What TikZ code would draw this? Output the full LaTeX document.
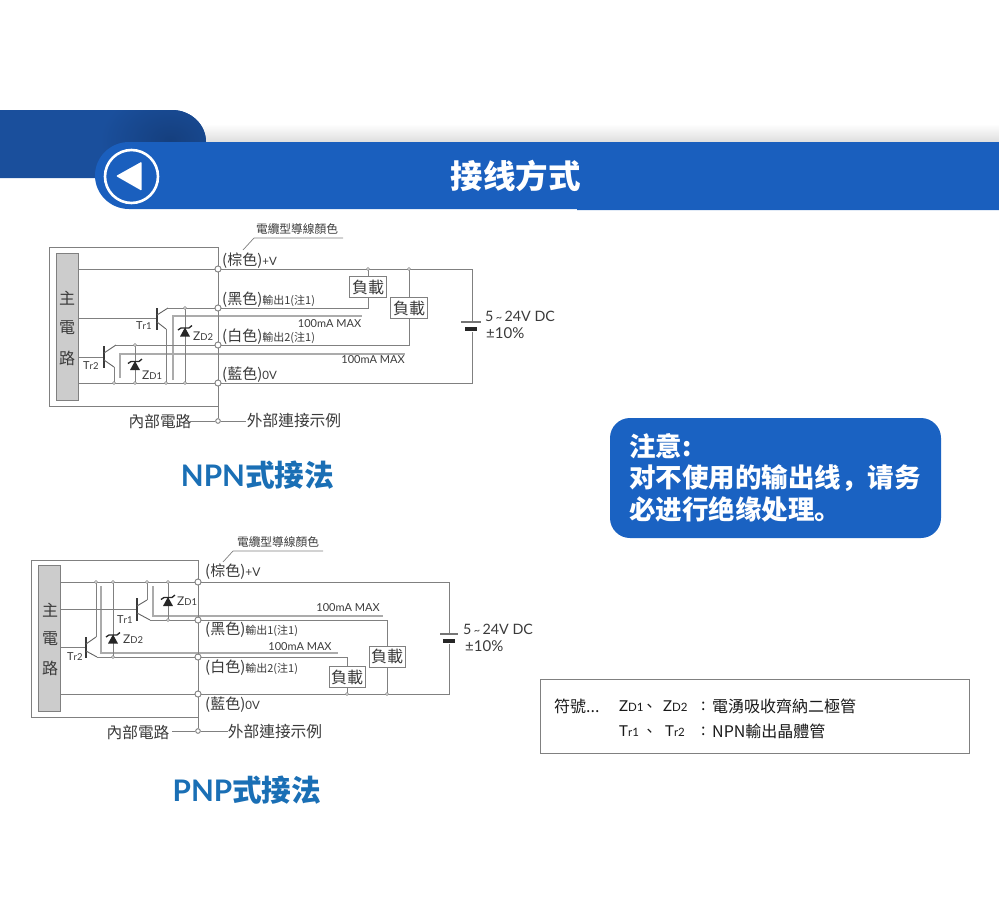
\documentclass[tikz,border=0pt]{standalone}
\usepackage{fontspec}
\setmainfont{Noto Sans CJK TC}
\newfontfamily\lat{Lato}
\newfontfamily\sccjk{Noto Sans CJK SC}
\usetikzlibrary{calc}
\definecolor{barblue}{HTML}{1A5FBE}
\definecolor{tabblue}{HTML}{1A4F9C}
\definecolor{tabdark}{HTML}{153F7E}
\definecolor{calloutblue}{HTML}{1A62C2}
\definecolor{titleblue}{HTML}{1A6FB5}
\definecolor{wire}{HTML}{808080}
\definecolor{greywire}{HTML}{ABABAB}
\definecolor{ink}{HTML}{3A3A3A}
\newcommand{\fs}[1]{\fontsize{#1}{#1}\selectfont}
\newcommand{\zd}[2][9.5]{{\lat Z{\fs{#1}D#2}}}
\newcommand{\trr}[2][9.5]{{\lat T{\fs{#1}r#2}}}
\tikzset{
  wireline/.style={draw=wire,line width=0.9pt},
  softline/.style={draw=greywire,line width=1.2pt},
  bjtbar/.style={draw=ink,line width=1.8pt},
  bjtleg/.style={draw=ink!80,line width=0.9pt},
  lbl/.style={inner sep=0pt,text=ink,anchor=west},
  ctr/.style={inner sep=0pt,text=ink,anchor=center},
  term/.style={circle,draw=wire,fill=white,line width=0.8pt,minimum size=6pt,inner sep=0pt},
  termsmall/.style={term,minimum size=4.5pt},
  jdot/.style={circle,draw=wire,fill=white,line width=0.6pt,minimum size=3pt,inner sep=0pt},
  loadbox/.style={draw=wire,fill=white,line width=0.9pt,inner sep=0pt,text=ink,font=\fs{16},anchor=center},
  mainbox/.style={draw=wire,fill=black!20,line width=0.8pt},
  calloutline/.style={inner sep=0pt,anchor=west,text=white,font=\sccjk\fs{26.5}\bfseries},
  legendtext/.style={lbl,text=black!90,font=\fs{16}},
  legendsym/.style={lbl,text=black!90,font=\fs{15}},
  zener/.pic={
    \fill[black!85] (0,-1) -- (-5,8) -- (5,8) -- cycle;
    \draw[black!85,line width=1.3pt] (-7,1.5) -- (-4,-0.5) -- (4,-0.5) -- (7,-3);
  }
}
\begin{document}
\begin{tikzpicture}[x=1pt,y=-1pt]
\useasboundingbox (0,0) rectangle (999,900);
% ---------- header ----------
\fill[top color=white,bottom color=black!13] (200,124) rectangle (999,142);
\begin{scope}
\clip (0,110) -- (172,110) arc[start angle=90,end angle=0,x radius=34,y radius=-32] -- (206,178) -- (0,178) -- cycle;
\fill[tabblue] (0,105) rectangle (210,180);
\shade[inner color=tabdark,outer color=tabblue] (100,90) rectangle (240,190);
\end{scope}
\fill[barblue] (129,142) -- (999,142) -- (999,210) -- (577,210) -- (577,209) -- (129,209) arc[start angle=270,end angle=90,x radius=34,y radius=-33.5] -- cycle;
\draw[white,line width=2.6pt] (131.5,176.5) circle[radius=26.5];
\fill[white,rounded corners=1pt] (116,176) -- (141.7,161.7) -- (141.7,190.7) -- cycle;
\node[inner sep=0pt,text=white,font=\fs{32.5}\bfseries] (title) at (515.5,176) {接线方式};

% ---------- NPN ----------
\draw[wireline] (218,406) -- (49,406) -- (49,247) -- (218,247);
\node[term] (nv) at (218,269) {};
\node[term] (nb) at (218,308) {};
\node[term] (nw) at (218,345) {};
\node[term] (n0) at (218,383) {};
\node[termsmall] (nx) at (218,421) {};
\coordinate (ntop) at (218,247);
\coordinate (nbatt) at (472,269);
\coordinate (nbatt0) at (472,383);
\coordinate (nmv) at (78,269); \coordinate (nm0) at (78,383);
\coordinate (ntr1b) at (157,318); \coordinate (ntr2b) at (104,357);
\coordinate (nl1) at (368,269); \coordinate (nl2) at (409,269);
\coordinate (ntr1c) at (168,308); \coordinate (ntr2c) at (116,345);
\coordinate (ntr1e) at (166,329); \coordinate (ntr2e) at (114,367);
\coordinate (nd1t) at (135,345); \coordinate (nd2t) at (185,308);
\coordinate (nd1b) at (135,383); \coordinate (nd2b) at (185,383);
\coordinate (ne1b) at (166,383); \coordinate (ne2b) at (114,383);
\coordinate (nl1b) at (368,308); \coordinate (nl2b) at (409,345);
\draw[softline] (173,380) -- (173,316) -- (362,316);
\draw[softline] (120,378) -- (120,354) -- (405,354);
\draw[wireline] (ntop) -- (nx);
\draw[wireline] (nmv) -- (nv) -- (nbatt) -- (nbatt0) -- (n0) -- (nm0);
\draw[wireline] (ntr1c) -- (nb) -- (nl1b) -- (nl1);
\draw[wireline] (ntr2c) -- (nw) -- (nl2b) -- (nl2);
\draw[wireline] (78,318) -- (ntr1b);
\draw[wireline] (78,357) -- (ntr2b);
\draw[wireline] (ntr1e) -- (ne1b);
\draw[wireline] (ntr2e) -- (ne2b);
\draw[wireline] (nd1t) -- (nd1b);
\draw[wireline] (nd2t) -- (nd2b);
\draw[bjtbar] (157,308) -- (157,330);
\draw[bjtleg] (157,315) -- (ntr1c);
\draw[bjtleg] (157,322) -- (ntr1e);
\draw[bjtbar] (104,346) -- (104,368);
\draw[bjtleg] (104,353) -- (ntr2c);
\draw[bjtleg] (104,360) -- (ntr2e);
\pic at (185,328.5) {zener};
\pic at (135,362) {zener};
\foreach \c in {nl1,nl2,nd1t,nd2t,nd1b,nd2b,ne1b,ne2b} \node[jdot] at (\c) {};
\foreach \c in {nv,nb,nw,n0} \node[term] at (\c) {};
\node[mainbox,minimum width=22pt,minimum height=147pt,inner sep=0pt] (nmain) at (67,326.5) {};
\node[ctr,font=\fs{16}] (nm1) at (67,298) {主};
\node[ctr,font=\fs{16}] (nm2) at (67,328) {電};
\node[ctr,font=\fs{16}] (nm3) at (67,358) {路};
\node[loadbox,minimum width=37pt,minimum height=21pt] (nload1) at (368,287) {負載};
\node[loadbox,minimum width=37pt,minimum height=21pt] (nload2) at (409,308) {負載};
\node[lbl,font=\fs{11}] (ntr1) at (136,326) {\trr{1}};
\node[lbl,font=\fs{11}] (ntr2) at (83,366) {\trr{2}};
\node[lbl,font=\fs{12}] (nzd2) at (193,336) {\zd{2}};
\node[lbl,font=\fs{12}] (nzd1) at (142,375.5) {\zd{1}};
\node[ctr,font=\fs{11.7}] (ncab) at (297,229) {電纜型導線顏色};
\coordinate (nlead) at (243,250);
\draw[draw=wire,line width=0.7pt] (nlead) -- (254,238) -- (343,238);
\node[lbl] (nt1) at (222,261) {\fs{15}(棕色)\fs{11.5}{\lat +V}};
\node[lbl] (nt2) at (222,300) {\fs{15}(黑色)\fs{11}輸出1(注1)};
\node[lbl] (nt3) at (222,337) {\fs{15}(白色)\fs{11}輸出2(注1)};
\node[lbl] (nt4) at (222,375) {\fs{15}(藍色)\fs{11.5}{\lat 0V}};
\node[ctr,font=\lat\fs{11}] (nma1) at (329.5,324) {100mA MAX};
\node[ctr,font=\lat\fs{11}] (nma2) at (373,360) {100mA MAX};
\draw[wireline] (190,421) -- (nx) -- (246,421);
\node[termsmall] at (nx) {};
\node[ctr,font=\fs{15.7}] (nin) at (160,421) {內部電路};
\node[ctr,font=\fs{15.7}] (nout) at (294,421) {外部連接示例};
\fill[white] (461,322) rectangle (483,332);
\draw[draw=ink!70,line width=1.2pt] (461,322) -- (481,322);
\fill[black!85] (465,327) rectangle (477,331);
\node[lbl,font=\lat\fs{14.3}] (nvdc) at (485,316) {5\,{\fs{11}\char`\~}\,24V DC};
\node[lbl,font=\lat\fs{15}] (npct) at (486,333) {±10\%};
\node[inner sep=0pt,text=titleblue,font=\fs{29.7}\bfseries] (ntitle) at (257.5,475) {{\lat NPN}式接法};

% ---------- PNP ----------
\draw[wireline] (198,717) -- (31,717) -- (31,560) -- (198,560);
\coordinate (ptop) at (198,560);
\node[term] (pv) at (198,582) {};
\node[term] (pb) at (198,620) {};
\node[term] (pw) at (198,657) {};
\node[term] (p0) at (198,694) {};
\node[termsmall] (px) at (198,731) {};
\coordinate (pbatt) at (449,582); \coordinate (pbatt0) at (449,694);
\coordinate (pm) at (60,582); \coordinate (pm0) at (60,694);
\coordinate (ptr1e) at (147,600); \coordinate (ptr2e) at (96,637);
\coordinate (ptr1c) at (150,620); \coordinate (ptr2c) at (97,657);
\coordinate (pe1t) at (147,582); \coordinate (pe2t) at (96,582);
\coordinate (pd1t) at (168,582); \coordinate (pd1b) at (168,620);
\coordinate (pd2t) at (113,582); \coordinate (pd2b) at (113,657);
\coordinate (pl1t) at (387,620); \coordinate (pl1b) at (387,694);
\coordinate (pl2t) at (347,657); \coordinate (pl2b) at (347,694);
\draw[softline] (153,586) -- (153,616) -- (383,616);
\draw[softline] (101,586) -- (101,653) -- (338,653);
\draw[wireline] (ptop) -- (px);
\draw[wireline] (pm) -- (pv) -- (pbatt) -- (pbatt0) -- (p0) -- (pm0);
\draw[wireline] (ptr1c) -- (pb) -- (pl1t) -- (pl1b);
\draw[wireline] (ptr2c) -- (pw) -- (pl2t) -- (pl2b);
\draw[wireline] (60,609) -- (137,609);
\draw[wireline] (60,647) -- (86,647);
\draw[wireline] (ptr1e) -- (pe1t);
\draw[wireline] (ptr2e) -- (pe2t);
\draw[wireline] (pd1t) -- (pd1b);
\draw[wireline] (pd2t) -- (pd2b);
\draw[bjtbar] (137,598) -- (137,621);
\draw[bjtleg] (137,606) -- (ptr1e);
\draw[bjtleg] (137,613) -- (ptr1c);
\draw[bjtbar] (86,637) -- (86,658);
\draw[bjtleg] (86,644) -- (ptr2e);
\draw[bjtleg] (86,651) -- (ptr2c);
\pic at (168,598) {zener};
\pic at (113,635.5) {zener};
\foreach \c in {pe1t,pe2t,pd1t,pd1b,pd2t,pd2b,pl1b,pl2b} \node[jdot] at (\c) {};
\foreach \c in {pv,pb,pw,p0} \node[term] at (\c) {};
\node[mainbox,minimum width=22pt,minimum height=146pt,inner sep=0pt] (pmain) at (49.5,638.7) {};
\node[ctr,font=\fs{16}] (pm1) at (50,610) {主};
\node[ctr,font=\fs{16}] (pm2) at (50,639) {電};
\node[ctr,font=\fs{16}] (pm3) at (50,668) {路};
\node[loadbox,minimum width=36pt,minimum height=21pt] (pload1) at (387,656.7) {負載};
\node[loadbox,minimum width=36pt,minimum height=21pt] (pload2) at (347,677.4) {負載};
\node[lbl,font=\fs{11}] (ptr1) at (117,620) {\trr{1}};
\node[lbl,font=\fs{11}] (ptr2) at (67,657) {\trr{2}};
\node[lbl,font=\fs{12}] (pzd1) at (177,601) {\zd{1}};
\node[lbl,font=\fs{12}] (pzd2) at (123,639) {\zd{2}};
\node[ctr,font=\fs{11.7}] (pcab) at (278,542) {電纜型導線顏色};
\coordinate (plead) at (223,562);
\draw[draw=wire,line width=0.7pt] (plead) -- (233,551) -- (323,551);
\node[lbl] (pt1) at (205,572) {\fs{15}(棕色)\fs{12}{\lat +V}};
\node[lbl] (pt2) at (205,630) {\fs{15}(黑色)\fs{11}輸出1(注1)};
\node[lbl] (pt3) at (205,668) {\fs{15}(白色)\fs{11}輸出2(注1)};
\node[lbl] (pt4) at (205,705) {\fs{15}(藍色)\fs{11.5}{\lat 0V}};
\node[ctr,font=\lat\fs{11}] (pma1) at (348,608) {100mA MAX};
\node[ctr,font=\lat\fs{11}] (pma2) at (300,647) {100mA MAX};
\draw[wireline] (172,731) -- (px) -- (228,731);
\node[termsmall] at (px) {};
\node[ctr,font=\fs{15.7}] (pin) at (138,732) {內部電路};
\node[ctr,font=\fs{15.7}] (pout) at (275,732) {外部連接示例};
\fill[white] (439,634) rectangle (460,644);
\draw[draw=ink!70,line width=1.2pt] (440,634) -- (458,634);
\fill[black!85] (443,639) rectangle (455,643);
\node[lbl,font=\lat\fs{14.3}] (pvdc) at (463,629) {5\,{\fs{11}\char`\~}\,24V DC};
\node[lbl,font=\lat\fs{15}] (ppct) at (465,646) {±10\%};
\node[inner sep=0pt,text=titleblue,font=\fs{29.7}\bfseries] (ptitle) at (247,790) {{\lat PNP}式接法};

% ---------- callout ----------
\fill[calloutblue,rounded corners=20pt] (610,418) rectangle (941,538);
\node[calloutline] (c1) at (629,446) {注意:};
\node[calloutline] (c2) at (629,478) {对不使用的输出线^^^^ff0c请务};
\node[calloutline] (c3) at (629,509) {必进行绝缘处理。};

% ---------- legend ----------
\draw[draw=black!50,line width=0.9pt] (540.5,679.5) rectangle (969.5,753.5);
\node[legendtext] (l0) at (554,706) {符號...};
\node[legendsym] (l1) at (619,706) {\zd[11.5]{1}};
\node[legendsym,font=\sccjk\fs{15}] (l2) at (646.5,706) {、};
\node[legendsym] (l3) at (663,706) {\zd[11.5]{2}};
\node[legendtext] (l4) at (701,706) {:};
\node[legendtext] (l4b) at (712,706) {電湧吸收齊納二極管};
\node[legendsym] (l5) at (619,731) {\trr[11.5]{1}};
\node[legendsym,font=\sccjk\fs{15}] (l6) at (646.5,731) {、};
\node[legendsym] (l7) at (665,731) {\trr[11.5]{2}};
\node[legendtext] (l8) at (701,731) {:};
\node[legendtext] (l8b) at (712,731) {NPN輸出晶體管};
\end{tikzpicture}
\end{document}
